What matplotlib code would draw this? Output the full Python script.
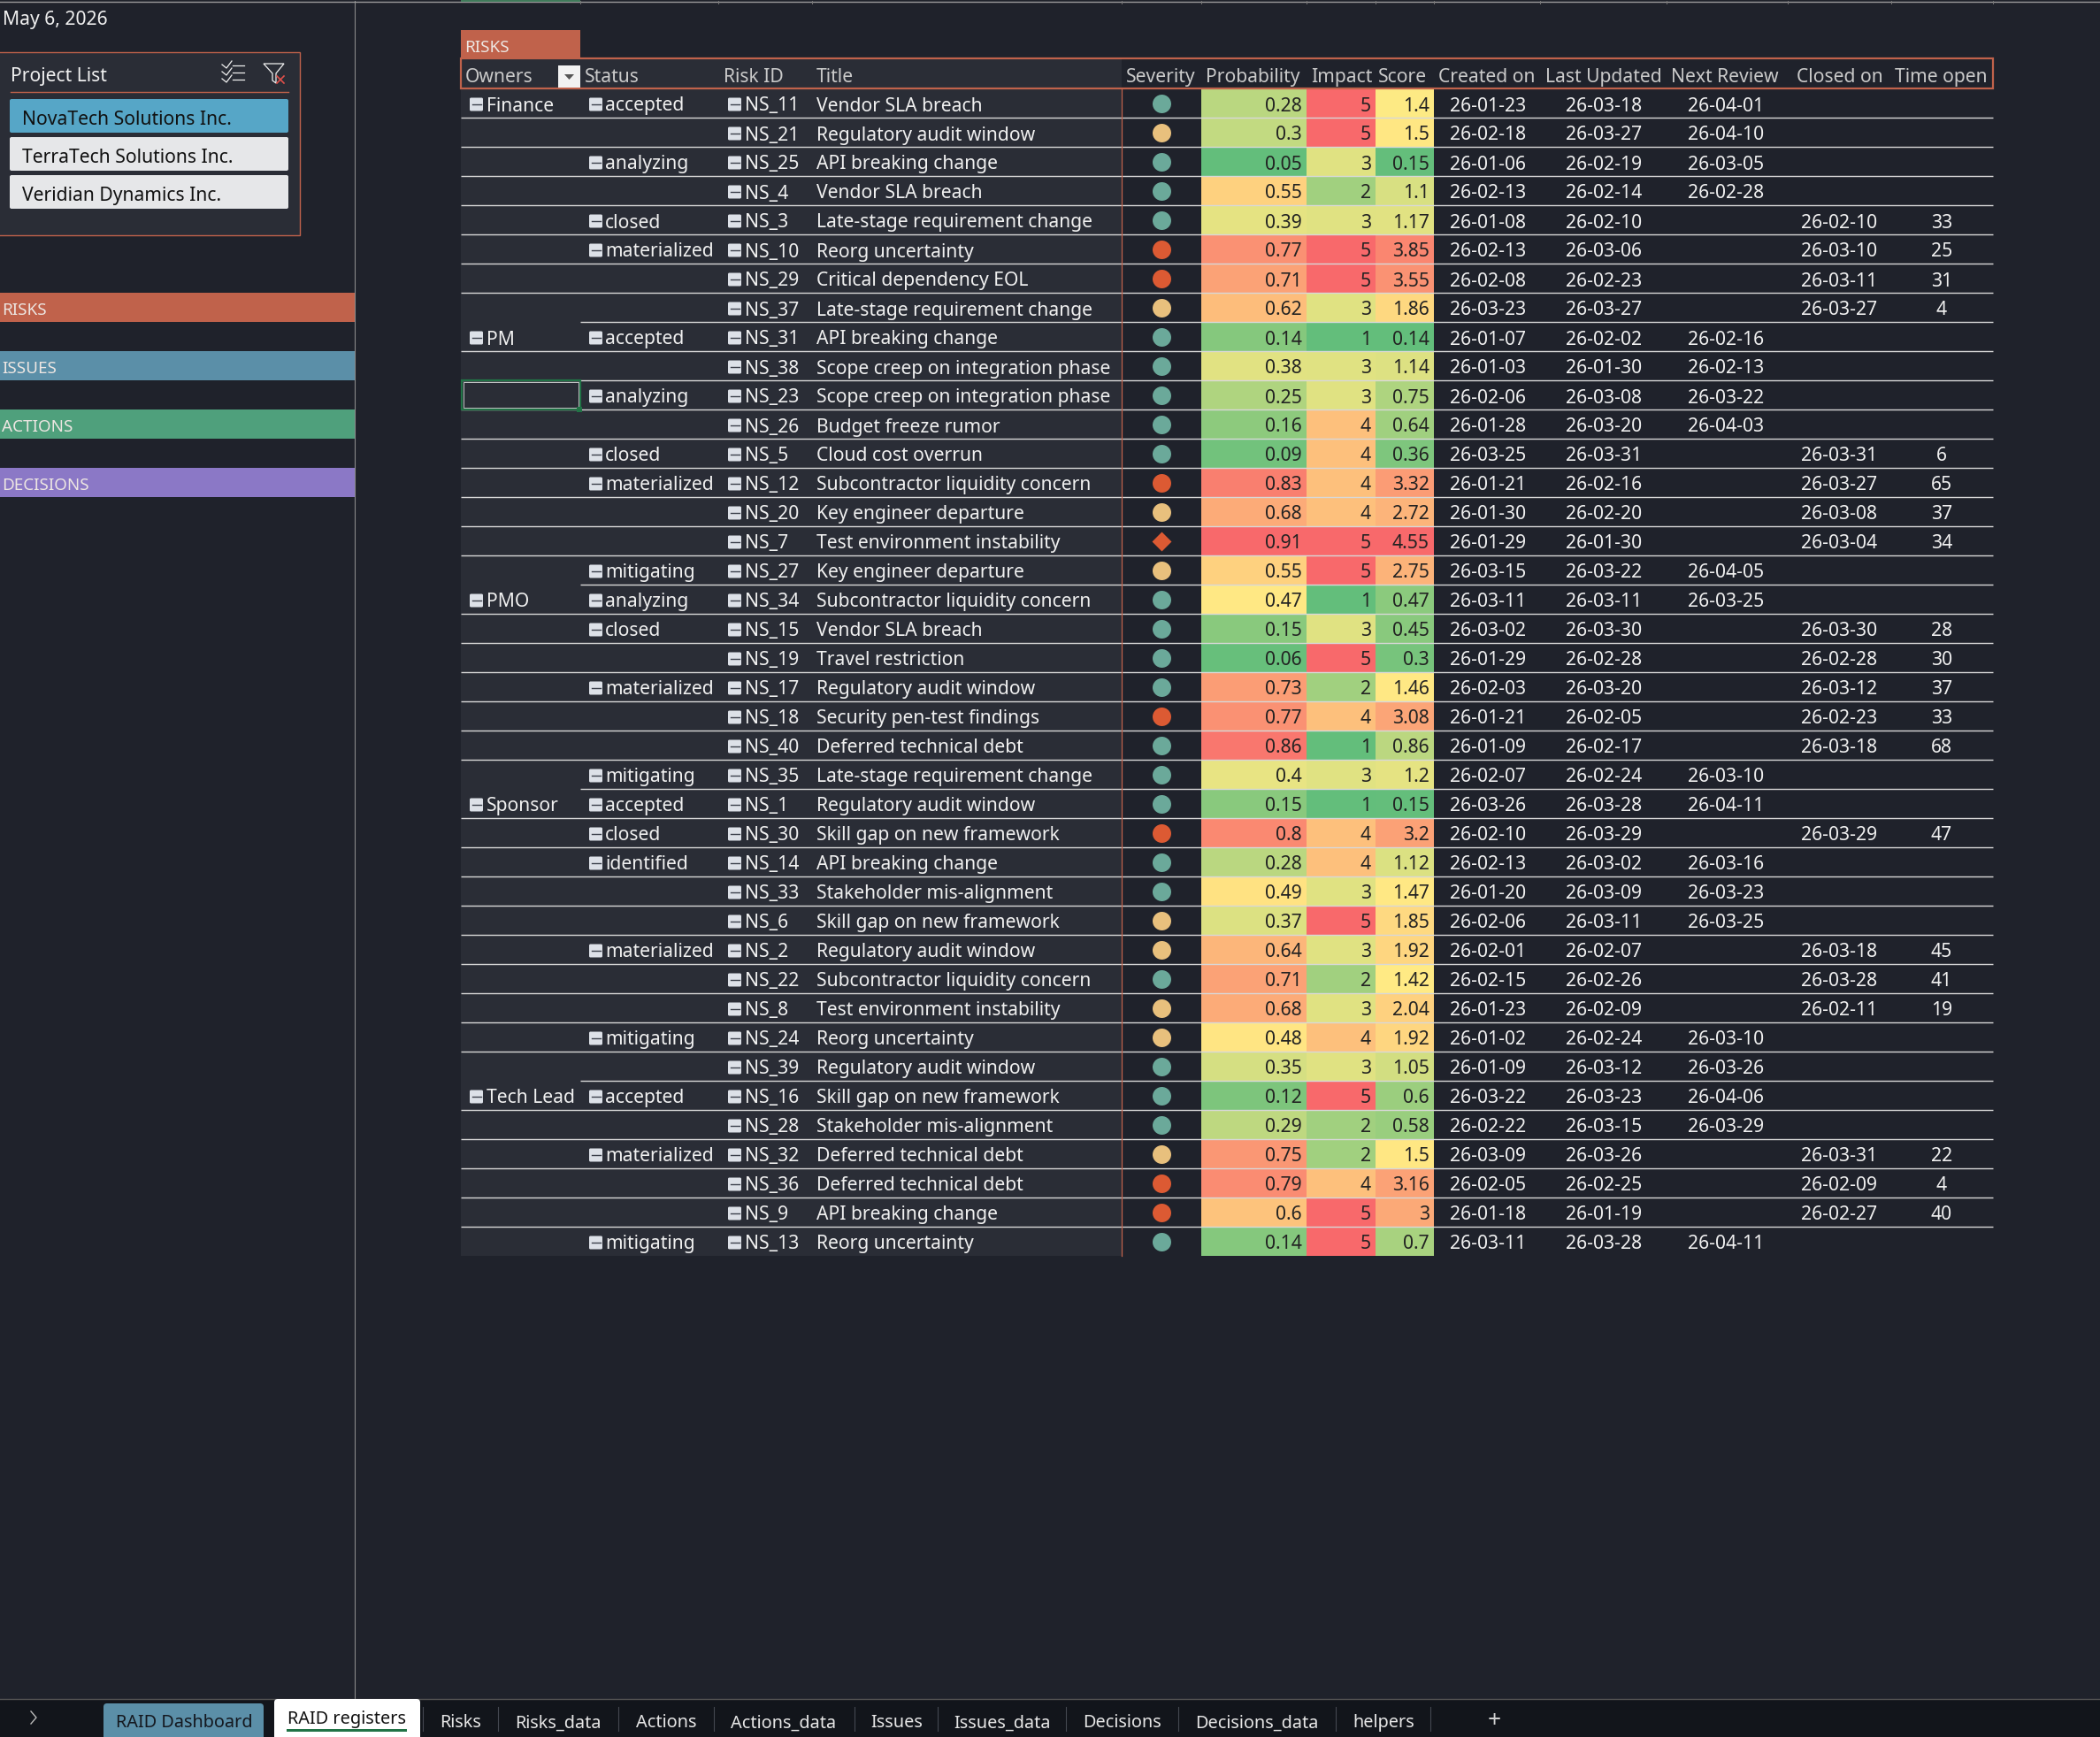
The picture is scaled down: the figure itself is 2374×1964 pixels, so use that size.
import matplotlib
matplotlib.use("Agg")
import matplotlib.pyplot as plt
from matplotlib.colors import LinearSegmentedColormap, TwoSlopeNorm
from matplotlib.patches import FancyBboxPatch, Polygon, Rectangle

plt.rcParams['font.family'] = ['Noto Sans', 'DejaVu Sans']

owners = {0: 'Finance', 8: 'PM', 17: 'PMO', 24: 'Sponsor', 34: 'Tech Lead'}
statuses = {0: 'accepted', 2: 'analyzing', 4: 'closed', 5: 'materialized', 8: 'accepted',
            10: 'analyzing', 12: 'closed', 13: 'materialized', 16: 'mitigating', 17: 'analyzing',
            18: 'closed', 20: 'materialized', 23: 'mitigating', 24: 'accepted', 25: 'closed',
            26: 'identified', 29: 'materialized', 32: 'mitigating', 34: 'accepted',
            36: 'materialized', 39: 'mitigating'}
risk_ids = [11, 21, 25, 4, 3, 10, 29, 37, 31, 38, 23, 26, 5, 12, 20, 7, 27, 34, 15, 19,
            17, 18, 40, 35, 1, 30, 14, 33, 6, 2, 22, 8, 24, 39, 16, 28, 32, 36, 9, 13]
titles = ['Vendor SLA breach', 'Regulatory audit window', 'API breaking change', 'Vendor SLA breach',
          'Late-stage requirement change', 'Reorg uncertainty', 'Critical dependency EOL',
          'Late-stage requirement change', 'API breaking change', 'Scope creep on integration phase',
          'Scope creep on integration phase', 'Budget freeze rumor', 'Cloud cost overrun',
          'Subcontractor liquidity concern', 'Key engineer departure', 'Test environment instability',
          'Key engineer departure', 'Subcontractor liquidity concern', 'Vendor SLA breach',
          'Travel restriction', 'Regulatory audit window', 'Security pen-test findings',
          'Deferred technical debt', 'Late-stage requirement change', 'Regulatory audit window',
          'Skill gap on new framework', 'API breaking change', 'Stakeholder mis-alignment',
          'Skill gap on new framework', 'Regulatory audit window', 'Subcontractor liquidity concern',
          'Test environment instability', 'Reorg uncertainty', 'Regulatory audit window',
          'Skill gap on new framework', 'Stakeholder mis-alignment', 'Deferred technical debt',
          'Deferred technical debt', 'API breaking change', 'Reorg uncertainty']
severity = ['low', 'med', 'low', 'low', 'low', 'high', 'high', 'med', 'low', 'low',
            'low', 'low', 'low', 'high', 'med', 'critical', 'med', 'low', 'low', 'low',
            'low', 'high', 'low', 'low', 'low', 'high', 'low', 'low', 'med', 'med',
            'low', 'med', 'med', 'low', 'low', 'low', 'med', 'high', 'high', 'low']
probability = [0.28, 0.3, 0.05, 0.55, 0.39, 0.77, 0.71, 0.62, 0.14, 0.38,
               0.25, 0.16, 0.09, 0.83, 0.68, 0.91, 0.55, 0.47, 0.15, 0.06,
               0.73, 0.77, 0.86, 0.4, 0.15, 0.8, 0.28, 0.49, 0.37, 0.64,
               0.71, 0.68, 0.48, 0.35, 0.12, 0.29, 0.75, 0.79, 0.6, 0.14]
impact = [5, 5, 3, 2, 3, 5, 5, 3, 1, 3, 3, 4, 4, 4, 4, 5, 5, 1, 3, 5,
          2, 4, 1, 3, 1, 4, 4, 3, 5, 3, 2, 3, 4, 3, 5, 2, 2, 4, 5, 5]
score = [1.4, 1.5, 0.15, 1.1, 1.17, 3.85, 3.55, 1.86, 0.14, 1.14,
         0.75, 0.64, 0.36, 3.32, 2.72, 4.55, 2.75, 0.47, 0.45, 0.3,
         1.46, 3.08, 0.86, 1.2, 0.15, 3.2, 1.12, 1.47, 1.85, 1.92,
         1.42, 2.04, 1.92, 1.05, 0.6, 0.58, 1.5, 3.16, 3, 0.7]
created = ['26-01-23', '26-02-18', '26-01-06', '26-02-13', '26-01-08', '26-02-13', '26-02-08', '26-03-23',
           '26-01-07', '26-01-03', '26-02-06', '26-01-28', '26-03-25', '26-01-21', '26-01-30', '26-01-29',
           '26-03-15', '26-03-11', '26-03-02', '26-01-29', '26-02-03', '26-01-21', '26-01-09', '26-02-07',
           '26-03-26', '26-02-10', '26-02-13', '26-01-20', '26-02-06', '26-02-01', '26-02-15', '26-01-23',
           '26-01-02', '26-01-09', '26-03-22', '26-02-22', '26-03-09', '26-02-05', '26-01-18', '26-03-11']
updated = ['26-03-18', '26-03-27', '26-02-19', '26-02-14', '26-02-10', '26-03-06', '26-02-23', '26-03-27',
           '26-02-02', '26-01-30', '26-03-08', '26-03-20', '26-03-31', '26-02-16', '26-02-20', '26-01-30',
           '26-03-22', '26-03-11', '26-03-30', '26-02-28', '26-03-20', '26-02-05', '26-02-17', '26-02-24',
           '26-03-28', '26-03-29', '26-03-02', '26-03-09', '26-03-11', '26-02-07', '26-02-26', '26-02-09',
           '26-02-24', '26-03-12', '26-03-23', '26-03-15', '26-03-26', '26-02-25', '26-01-19', '26-03-28']
next_review = ['26-04-01', '26-04-10', '26-03-05', '26-02-28', '', '', '', '',
               '26-02-16', '26-02-13', '26-03-22', '26-04-03', '', '', '', '',
               '26-04-05', '26-03-25', '', '', '', '', '', '26-03-10',
               '26-04-11', '', '26-03-16', '26-03-23', '26-03-25', '', '', '',
               '26-03-10', '26-03-26', '26-04-06', '26-03-29', '', '', '', '26-04-11']
closed_on = ['', '', '', '', '26-02-10', '26-03-10', '26-03-11', '26-03-27',
             '', '', '', '', '26-03-31', '26-03-27', '26-03-08', '26-03-04',
             '', '', '26-03-30', '26-02-28', '26-03-12', '26-02-23', '26-03-18', '',
             '', '26-03-29', '', '', '', '26-03-18', '26-03-28', '26-02-11',
             '', '', '', '', '26-03-31', '26-02-09', '26-02-27', '']
time_open = ['', '', '', '', 33, 25, 31, 4, '', '', '', '', 6, 65, 37, 34,
             '', '', 28, 30, 37, 33, 68, '', '', 47, '', '', '', 45, 41, 19,
             '', '', '', '', 22, 4, 40, '']
headers = ['Owners', 'Status', 'Risk ID', 'Title', 'Severity', 'Probability', 'Impact', 'Score',
           'Created on', 'Last Updated', 'Next Review', 'Closed on', 'Time open']
projects = ['NovaTech Solutions Inc.', 'TerraTech Solutions Inc.', 'Veridian Dynamics Inc.']
nav_labels = ['RISKS', 'ISSUES', 'ACTIONS', 'DECISIONS']
nav_colors = ['#C0624B', '#5B8FA8', '#4FA07C', '#8B78C6']
tabs = ['Risks', 'Risks_data', 'Actions', 'Actions_data', 'Issues', 'Issues_data',
        'Decisions', 'Decisions_data', 'helpers']

BG = '#1F222B'
PANEL = '#2A2D36'
ACCENT = '#C0624B'
TEXT = '#F0F0F0'
LINE = '#D8D8D8'
FONT = 15.2
TAB_FONT = 14.3
ROW_H = 33
TOP = 101
sev_colors = {'low': '#6BA99A', 'med': '#E8C07D', 'high': '#DC5A33', 'critical': '#DC5A33'}
heat = LinearSegmentedColormap.from_list('heat', ['#63BE7B', '#FFEB84', '#F8696B'])


def row_y(i):
    return TOP + ROW_H * i + ROW_H / 2


def label(ax, x, y, s, ha='left', color=TEXT, size=FONT, **kw):
    ax.text(x, y, s, ha=ha, va='center_baseline', color=color, fontsize=size, **kw)


def rect(ax, x0, y0, x1, y1, color, **kw):
    ax.add_patch(Rectangle((x0, y0), x1 - x0, y1 - y0, facecolor=color, edgecolor='none', **kw))


def collapse_icon(ax, x, y):
    y = y + 1.5
    ax.add_patch(FancyBboxPatch((x + 1.5, y - 6), 12, 12, boxstyle='round,pad=1.5', facecolor='#DDE1E8',
                                edgecolor='none', zorder=4))
    ax.plot([x + 2.5, x + 12.5], [y, y], color='#3A3F4A', lw=1.0, zorder=5)


def draw_slicer(ax):
    ax.add_patch(Rectangle((-5, 60), 344, 207, facecolor=PANEL, edgecolor=ACCENT, lw=1))
    label(ax, 12, 84, 'Project List')
    ax.plot([12, 326], [105, 105], color=ACCENT, lw=1)
    # select and clear-filter icons
    for y in (75, 83, 91):
        ax.plot([251, 256, 262], [y - 1, y + 3, y - 5], color=TEXT, lw=0.9)
        ax.plot([263, 276], [y, y], color=TEXT, lw=0.9)
    ax.add_patch(Polygon([(298, 73), (321, 73), (312, 84), (312, 95), (308, 92), (308, 84)],
                         fill=False, edgecolor=TEXT, lw=0.9))
    ax.plot([313, 321], [87, 95], color='#E0504A', lw=1.2)
    ax.plot([321, 313], [87, 95], color='#E0504A', lw=1.2)
    fills = ['#56A6C7', '#E6E7E9', '#E6E7E9']
    for i, name in enumerate(projects):
        y0 = 113 + 43 * i
        ax.add_patch(FancyBboxPatch((13, y0 + 2), 311, 34, boxstyle='round,pad=2', facecolor=fills[i],
                                    edgecolor='none'))
        label(ax, 25, y0 + 20, name, color='#111111')


def draw_nav(ax):
    for i, name in enumerate(nav_labels):
        y0 = 332 + 66 * i
        rect(ax, 0, y0, 401, y0 + 33, nav_colors[i])
        label(ax, 2, y0 + 17, name, size=13.6, fontweight='bold', color='#EDE6E2')


def draw_table(ax):
    edges = [521, 656, 812, 918, 1268, 1358, 1477, 1555, 1621, 1741, 1884, 2021, 2138, 2253]
    bottom = TOP + ROW_H * len(titles)
    rect(ax, edges[0], 67, edges[4], bottom, PANEL)
    rect(ax, 521, 35, 656, 67, ACCENT)
    label(ax, 525, 52, 'RISKS', size=13.6, fontweight='bold', color='#EDE6E2')

    heat_cols = [(probability, 5, 0.46), (impact, 6, 3.5), (score, 7, 1.41)]
    for values, col, mid in heat_cols:
        norm = TwoSlopeNorm(vmin=min(values), vcenter=mid, vmax=max(values))
        for i, v in enumerate(values):
            rect(ax, edges[col], TOP + ROW_H * i, edges[col + 1], TOP + ROW_H * (i + 1), heat(norm(v)))
            label(ax, edges[col + 1] - 5, row_y(i), f'{v:g}', ha='right', color='#222222')

    # header row
    header_x = [526, 661, 818, 923, 1273, 1363, 1482, 1558, 1626, 1747, 1889, 2031, 2142]
    for x, name in zip(header_x, headers):
        label(ax, x, 85, name, color='#C9C9C9')
    ax.add_patch(Rectangle((521, 67), 1732, 34, fill=False, edgecolor=ACCENT, lw=1.6, zorder=6))
    rect(ax, 631, 75, 656, 100, '#F2F2F2', zorder=7)
    ax.add_patch(Polygon([(638, 85), (649, 85), (643.5, 91)], facecolor='#555555', edgecolor='none', zorder=8))

    # rows
    for i in range(len(titles)):
        y = row_y(i)
        if i in owners:
            collapse_icon(ax, 531, y)
            label(ax, 550, y, owners[i])
        if i in statuses:
            collapse_icon(ax, 666, y)
            label(ax, 684, y, statuses[i])
        collapse_icon(ax, 823, y)
        label(ax, 842, y, f'NS_{risk_ids[i]}')
        label(ax, 923, y, titles[i])
        marker = 'D' if severity[i] == 'critical' else 'o'
        size = 125 if marker == 'D' else 228
        ax.scatter(1313, y, s=size, marker=marker, color=sev_colors[severity[i]], linewidths=0, zorder=4)
        label(ax, 1682, y, created[i], ha='center')
        label(ax, 1813, y, updated[i], ha='center')
        label(ax, 1951, y, next_review[i], ha='center')
        label(ax, 2079, y, closed_on[i], ha='center')
        label(ax, 2195, y, time_open[i], ha='center')

    # row rules, the owner column has no rule above a label row
    for i in range(1, len(titles)):
        x0 = 656 if i in owners else 521
        y = TOP + ROW_H * i
        ax.plot([x0, 2253], [y, y], color=LINE, lw=1.0, zorder=3, solid_capstyle='butt')
    ax.plot([1268, 1268], [101, bottom], color=ACCENT, lw=0.9, zorder=3)

    # selected cell
    y0 = TOP + ROW_H * 10
    ax.add_patch(Rectangle((522, y0), 134, ROW_H, fill=False, edgecolor='#217346', lw=1.6, zorder=6))
    ax.add_patch(Rectangle((524, y0 + 2), 130, ROW_H - 4, fill=False, edgecolor='#DDDDDD', lw=0.6, zorder=6))
    rect(ax, 652, y0 + ROW_H - 3, 658, y0 + ROW_H + 3, '#217346', zorder=7)

    # sheet top edge
    ax.plot([0, 2374], [2.5, 2.5], color='#9A9A9A', lw=1.0)
    rect(ax, 521, 0, 656, 3, '#3F7A5A', zorder=5)
    for x in edges[1:]:
        ax.plot([x, x], [2, 5], color='#777777', lw=0.7)


def draw_tabs(ax):
    rect(ax, 0, 1922, 2374, 1965, '#12151B', zorder=5)
    ax.plot([0, 2374], [1922, 1922], color='#555555', lw=1.0, zorder=6)
    ax.plot([35, 41, 35], [1936, 1943, 1950], color='#BBBBBB', lw=1.0, zorder=6)
    ax.add_patch(FancyBboxPatch((121, 1931), 173, 34, boxstyle='round,pad=4', facecolor='#5B8FA8',
                                edgecolor='none', zorder=6))
    label(ax, 208, 1946, 'RAID Dashboard', ha='center', color='#14181F', size=TAB_FONT, zorder=7)
    ax.add_patch(FancyBboxPatch((314, 1926), 157, 40, boxstyle='round,pad=4', facecolor='#FFFFFF',
                                edgecolor='none', zorder=6))
    label(ax, 392, 1942, 'RAID registers', ha='center', color='#111111', size=TAB_FONT, zorder=7)
    rect(ax, 324, 1956, 460, 1959, '#217346', zorder=7)
    centers = [521, 631, 753, 886, 1014, 1133, 1269, 1421, 1564]
    seps = [478, 563, 699, 807, 966, 1060, 1205, 1332, 1510, 1617]
    for x, name in zip(centers, tabs):
        label(ax, x, 1946, name, ha='center', color='#E6E6E6', size=TAB_FONT, zorder=7)
    for x in seps:
        ax.plot([x, x], [1931, 1958], color='#444851', lw=0.8, zorder=6)
    label(ax, 1689, 1943, '+', ha='center', color='#D0D0D0', size=19, zorder=7)


fig = plt.figure(figsize=(23.74, 19.65), dpi=100, facecolor=BG)
ax = fig.add_axes([0, 0, 1, 1])
ax.set_xlim(0, 2374)
ax.set_ylim(1965, 0)
ax.axis('off')

label(ax, 3, 20, 'May 6, 2026', size=FONT)
ax.plot([401, 401], [2, 1922], color='#8A8A8A', lw=0.8)
draw_slicer(ax)
draw_nav(ax)
draw_table(ax)
draw_tabs(ax)

plt.savefig('out.png', facecolor=BG)
